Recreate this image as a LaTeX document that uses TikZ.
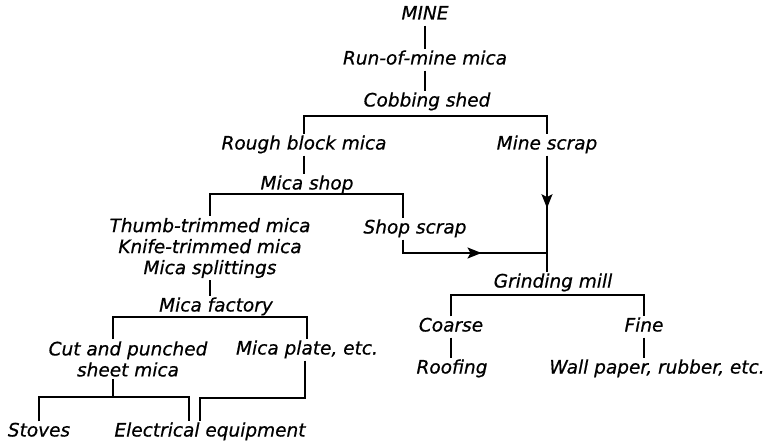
\documentclass[tikz,border=0pt]{standalone}
\usepackage{fontspec}
\setmainfont{DejaVu Sans}
\newfontfamily\chartfont{DejaVu Sans Oblique}[FakeBold=0.6]
\usetikzlibrary{positioning, arrows.meta, decorations.markings}
\tikzset{
    lbl/.style={font=\chartfont\fontsize{18.5}{21}\selectfont, inner sep=1.5pt, text height=13pt, text depth=4pt},
    stack/.style={font=\chartfont\fontsize{18.5}{21}\selectfont, inner sep=1.5pt, align=center},
    midarrow/.style={postaction={decorate}, decoration={markings, mark=at position #1 with {\arrow{Stealth[length=14pt,width=11pt,inset=3pt]}}}}
}

\begin{document}
\begin{tikzpicture}[x=1pt, y=-1pt, line width=1.3pt]
    \useasboundingbox (0,0) rectangle (767,443);

    % ---------------- MINE TO COBBING SHED ---------------- %
    \node[lbl] (mine) at (425,15) {MINE};
    \node[lbl] (run) at (425,60) {Run-of-mine mica};
    \node[lbl] (cob) at (427,102) {Cobbing shed};
    \coordinate (cobbar) at (427,116);

    \draw (mine) -- (run);
    \draw (run.south) -- (run.south |- cob.north);

    % ---------------- COBBING SHED OUTPUT ---------------- %
    \node[lbl] (rough) at (304,145) {Rough block mica};
    \node[lbl] (mscrap) at (547,145) {Mine scrap};
    \draw (rough.north) |- (cobbar) -| (mscrap.north);

    % ---------------- MICA SHOP ---------------- %
    \node[lbl] (shop) at (307,185) {Mica shop};
    \coordinate (shopbar) at (307,194);
    \node[stack] (trim) at (210,248) {Thumb-trimmed mica\\Knife-trimmed mica\\Mica splittings};
    \node[lbl] (sscrap) at (415,229) {Shop scrap};

    \draw (rough.south) -- (rough.south |- shop.north);
    \draw (trim.north) |- (shopbar) -| ([xshift=-12pt]sscrap.north);

    % Scrap to grinding mill
    \node[lbl] (grind) at (553,283) {Grinding mill};
    \coordinate (scrapjoin) at (548,253);
    \draw[midarrow=0.58] ([xshift=-12pt]sscrap.south) |- (scrapjoin);
    \draw[midarrow=0.45] (mscrap.south) -- (mscrap.south |- grind.north);

    % ---------------- MICA FACTORY ---------------- %
    \node[lbl] (factory) at (216,307) {Mica factory};
    \coordinate (factorybar) at (216,317);
    \node[stack] (cut) at (128,359) {Cut and punched\\sheet mica};
    \node[lbl] (plate) at (307,350) {Mica plate, etc.};
    \coordinate (cutbar) at (113,397);
    \coordinate (platebar) at (250,398);

    \draw (trim.south) -- (trim.south |- factory.north);
    \draw (cut.north -| cutbar) |- (factorybar) -| (plate.north);

    % Final uses
    \node[lbl] (stoves) at (39,432) {Stoves};
    \node[lbl] (elec) at (210,432) {Electrical equipment};
    \draw (cut.south -| cutbar) -- (cutbar);
    \draw (stoves.north) |- (cutbar) -| ([xshift=-21pt]elec.north);
    \draw ([xshift=-2pt]plate.south) |- (platebar) -| ([xshift=-10pt]elec.north);

    % ---------------- GRINDING MILL ---------------- %
    \coordinate (grindbar) at (553,295);
    \node[lbl] (coarse) at (451,327) {Coarse};
    \node[lbl] (fine) at (644,327) {Fine};
    \node[lbl] (roof) at (452,369) {Roofing};
    \node[lbl] (wall) at (657,369) {Wall paper, rubber, etc.};

    \draw (coarse.north) |- (grindbar) -| (fine.north);
    \draw (coarse.south) -- (coarse.south |- roof.north);
    \draw (fine.south) -- (fine.south |- wall.north);
\end{tikzpicture}
\end{document}
